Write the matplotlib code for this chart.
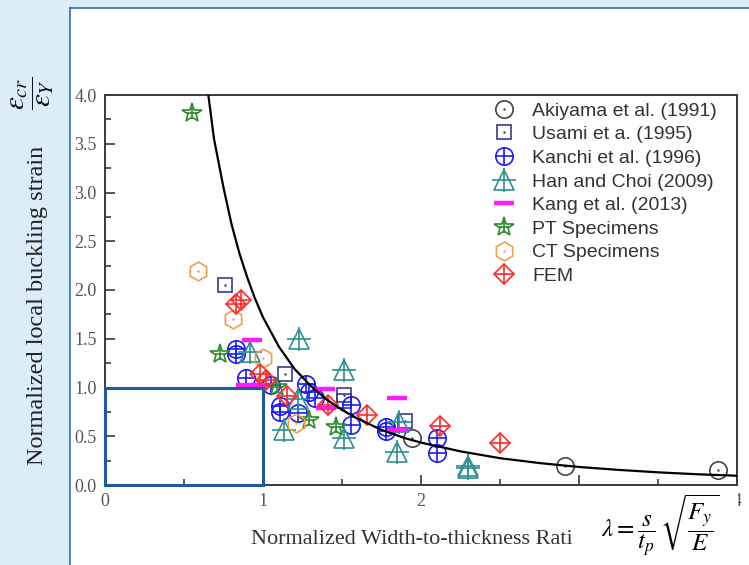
import numpy as np
import matplotlib
matplotlib.use("Agg")
import matplotlib.pyplot as plt
import matplotlib.ticker as mticker
from matplotlib.patches import Rectangle
from matplotlib.lines import Line2D

# ----------------------------------------------------------------------
# data
# ----------------------------------------------------------------------
curve_x = [0.654, 0.69, 0.75, 0.80, 0.85, 0.90, 0.95, 1.00, 1.10, 1.20, 1.30,
           1.40, 1.50, 1.60, 1.75, 1.90, 2.00, 2.25, 2.50, 2.75, 3.00, 3.25,
           3.50, 3.75, 4.00]
curve_y = [4.00, 3.55, 3.05, 2.68, 2.38, 2.13, 1.91, 1.72, 1.42, 1.19, 1.02,
           0.88, 0.77, 0.68, 0.565, 0.48, 0.435, 0.345, 0.275, 0.225, 0.185,
           0.155, 0.13, 0.11, 0.095]

akiyama_x = [1.94, 2.91, 3.88]
akiyama_y = [0.48, 0.195, 0.155]

usami_x = [0.76, 1.14, 1.51, 1.51, 1.90]
usami_y = [2.05, 1.14, 0.92, 0.86, 0.66]

kanchi_x = [0.83, 0.83, 0.89, 1.05, 1.27, 1.29, 1.33, 1.11, 1.11, 1.22,
            1.56, 1.56, 1.78, 1.78, 2.10, 2.10]
kanchi_y = [1.40, 1.34, 1.10, 1.03, 1.04, 0.95, 0.89, 0.81, 0.75, 0.74,
            0.82, 0.615, 0.60, 0.55, 0.48, 0.33]

han_x = [0.92, 1.23, 1.22, 1.13, 1.51, 1.51, 1.86, 1.85, 2.30, 2.30]
han_y = [1.36, 1.50, 0.88, 0.56, 1.18, 0.48, 0.65, 0.34, 0.19, 0.17]

kang_x = [0.93, 0.89, 0.99, 1.39, 1.40, 1.85, 1.85]
kang_y = [1.49, 1.03, 1.03, 0.98, 0.79, 0.89, 0.565]

pt_x = [0.55, 0.73, 1.09, 1.29, 1.46]
pt_y = [3.82, 1.345, 1.01, 0.67, 0.59]

ct_x = [0.59, 0.81, 1.00, 1.21]
ct_y = [2.20, 1.70, 1.30, 0.64]

fem_x = [0.83, 0.86, 0.98, 1.02, 1.15, 1.41, 1.66, 2.12, 2.50]
fem_y = [1.86, 1.90, 1.14, 1.08, 0.91, 0.82, 0.72, 0.61, 0.43]

labels = ["Akiyama et al. (1991)", "Usami et a. (1995)", "Kanchi et al. (1996)",
          "Han and Choi (2009)", "Kang et al. (2013)", "PT Specimens",
          "CT Specimens", "FEM"]

W, H = 749, 565
BG = "#daedf8"
FRAME = "#2f6ea5"


def fx(px):
    return px / W


def fy(py):
    return 1 - py / H


fig = plt.figure(figsize=(W / 100, H / 100), dpi=100)
fig.patch.set_facecolor(BG)

# white panel with blue edge
fig.add_artist(Rectangle((fx(70), 0), 1 - fx(70), fy(8), transform=fig.transFigure,
                         facecolor="white", edgecolor="none", zorder=-5))
fig.add_artist(Line2D([fx(70), fx(70)], [0, fy(8)], transform=fig.transFigure,
                      color=FRAME, lw=1.2, zorder=-4))
fig.add_artist(Line2D([fx(70), 1], [fy(8), fy(8)], transform=fig.transFigure,
                      color=FRAME, lw=1.2, zorder=-4))

ax = fig.add_axes([fx(105), fy(485), fx(737) - fx(105), fy(95) - fy(485)])
ax.set_facecolor("none")
ax.set_xlim(0, 4)
ax.set_ylim(0, 4)

for s in ax.spines.values():
    s.set_color("#3a3a3a")
    s.set_linewidth(1.4)
ax.tick_params(which="both", direction="in", top=False, right=False,
               colors="#3a3a3a", labelcolor="#555555", labelsize=13,
               width=1.2)
ax.tick_params(which="major", length=7, pad=6)
ax.tick_params(which="minor", length=4)
ax.xaxis.set_major_locator(mticker.MultipleLocator(1))
ax.xaxis.set_minor_locator(mticker.MultipleLocator(0.5))
ax.yaxis.set_major_locator(mticker.MultipleLocator(0.5))
ax.yaxis.set_minor_locator(mticker.MultipleLocator(0.25))
ax.yaxis.set_major_formatter(mticker.FormatStrFormatter("%.1f"))
for lab in ax.get_xticklabels() + ax.get_yticklabels():
    lab.set_fontfamily("Liberation Serif")

# blue box (0,0)-(1,1)
ax.add_patch(Rectangle((0, 0), 1, 1, facecolor="none", edgecolor="#1f5b9c",
                       lw=2.2, zorder=6, clip_on=False))

ax.plot(curve_x, curve_y, color="black", lw=1.6, zorder=5)

C_AKI = "#444444"
C_USA = "#3b3b8f"
C_KAN = "#1a1aff"
C_HAN = "#2a9090"
C_KANG = "#ff1aff"
C_PT = "#2e8b2e"
C_CT = "#f0a04b"
C_FEM = "#ff2a2a"

mew = 1.2
handles = []

h1 = ax.plot(akiyama_x, akiyama_y, "o", ms=12.5, mfc="none", mec=C_AKI, mew=mew, zorder=4)[0]
h1b = ax.plot(akiyama_x, akiyama_y, ".", ms=1.5, color=C_AKI, zorder=4)[0]
handles.append((h1, h1b))

h2 = ax.plot(usami_x, usami_y, "s", ms=10.5, mfc="none", mec=C_USA, mew=mew, zorder=4)[0]
h2b = ax.plot(usami_x, usami_y, ".", ms=1.5, color=C_USA, zorder=4)[0]
handles.append((h2, h2b))

h3 = ax.plot(kanchi_x, kanchi_y, "o", ms=12.5, mfc="none", mec=C_KAN, mew=mew, zorder=4)[0]
h3b = ax.plot(kanchi_x, kanchi_y, "+", ms=12.5, color=C_KAN, mew=mew, zorder=4)[0]
handles.append((h3, h3b))

h4 = ax.plot(han_x, han_y, "^", ms=14.5, mfc="none", mec=C_HAN, mew=mew, zorder=4)[0]
h4b = ax.plot(han_x, han_y, "+", ms=17, color=C_HAN, mew=mew, zorder=4)[0]
handles.append((h4, h4b))

h5 = ax.plot(kang_x, kang_y, "_", ms=14, color=C_KANG, mew=3.2, zorder=4)[0]
handles.append(h5)

h6 = ax.plot(pt_x, pt_y, "*", ms=15, mfc="none", mec=C_PT, mew=mew, zorder=4)[0]
h6b = ax.plot(pt_x, pt_y, "+", ms=9, color=C_PT, mew=mew, zorder=4)[0]
handles.append((h6, h6b))

h7 = ax.plot(ct_x, ct_y, "h", ms=13.5, mfc="none", mec=C_CT, mew=mew, zorder=4)[0]
h7b = ax.plot(ct_x, ct_y, ".", ms=1.5, color=C_CT, zorder=4)[0]
handles.append((h7, h7b))

h8 = ax.plot(fem_x, fem_y, "D", ms=10.5, mfc="none", mec=C_FEM, mew=mew, zorder=4)[0]
h8b = ax.plot(fem_x, fem_y, "+", ms=14, color=C_FEM, mew=mew, zorder=4)[0]
handles.append((h8, h8b))

leg = ax.legend(handles, labels, loc="upper left",
                bbox_to_anchor=(fx(494), fy(102)), bbox_transform=fig.transFigure,
                frameon=False, handlelength=1.0, handletextpad=0.95,
                labelspacing=0.31, borderpad=0, borderaxespad=0,
                prop={"family": "Liberation Sans", "size": 14})
for t in leg.get_texts():
    t.set_color("#333333")

# axis titles
fig.text(fx(417), fy(540), "Normalized Width-to-thickness Ratio",
         ha="center", va="center", fontsize=16, family="Liberation Serif",
         color="#333333")
fig.text(fx(38), fy(305), "Normalized local buckling strain", rotation=90,
         ha="center", va="center", fontsize=17.5, family="Liberation Serif",
         color="#222222")
fig.text(fx(33), fy(93), r"$\dfrac{\varepsilon_{cr}}{\varepsilon_Y}$", rotation=90,
         ha="center", va="center", fontsize=21, math_fontfamily="stix",
         color="#111111")

# white box carrying the lambda definition
fig.add_artist(Rectangle((fx(572), 0), fx(738) - fx(572), fy(487),
                         transform=fig.transFigure, facecolor="white",
                         edgecolor="none", zorder=10))
fig.text(fx(660), fy(526), r"$\lambda = \dfrac{s}{t_p}\,\sqrt{\dfrac{F_y}{E}}$",
         ha="center", va="center", fontsize=18, math_fontfamily="stix",
         color="black", zorder=11)

fig.savefig("out.png", dpi=100, facecolor=BG)
